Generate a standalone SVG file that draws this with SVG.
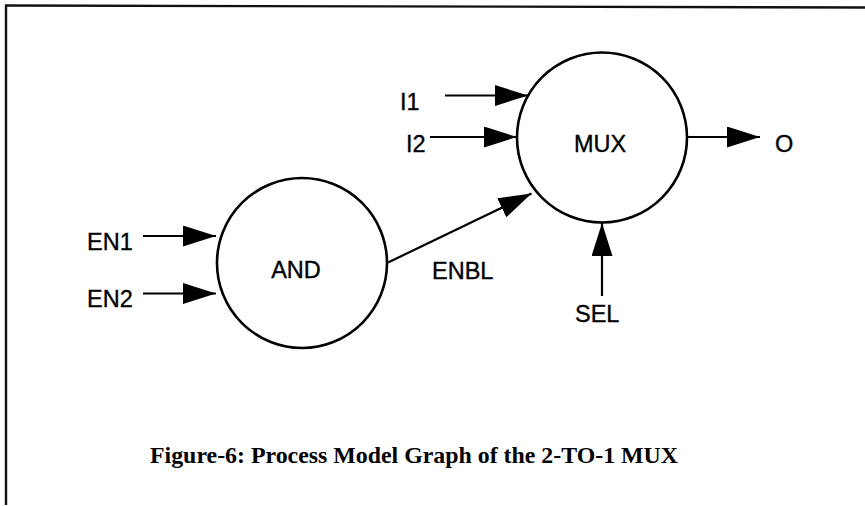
<svg xmlns="http://www.w3.org/2000/svg" width="865" height="506" viewBox="0 0 865 506">
  <style>
    .node { fill: #ffffff; stroke: #000000; stroke-width: 2.6; }
    .edge { fill: none; stroke: #000000; stroke-width: 2.2; marker-end: url(#arrow); }
    .label { font-family: "Liberation Sans", Arial, Helvetica, sans-serif; font-size: 23.5px; fill: #000000; stroke: #000000; stroke-width: 0.35; }
    .caption { font-family: "Liberation Serif", "Times New Roman", serif; font-size: 24px; font-weight: bold; fill: #000000; }
    .frame { stroke-width: 2.4; fill: none; }
  </style>
  <defs>
    <marker id="arrow" markerUnits="userSpaceOnUse" markerWidth="34" markerHeight="22" refX="33" refY="10.5" orient="auto">
      <path d="M0,0 L33,10.5 L0,21 Z" fill="#000000"/>
    </marker>
    <linearGradient id="bottomFade" x1="0" y1="0" x2="1" y2="0">
      <stop offset="0" stop-color="#1a1a1a"/>
      <stop offset="0.35" stop-color="#777777"/>
      <stop offset="1" stop-color="#d6d6d6"/>
    </linearGradient>
  </defs>

  <rect x="0" y="0" width="865" height="506" fill="#ffffff"/>

  <!-- page frame -->
  <g id="frame">
    <line class="frame" x1="5" y1="5.5" x2="865" y2="7.5" stroke="#111111"/>
    <line class="frame" x1="6" y1="5" x2="6" y2="505" stroke="#111111"/>
    <line class="frame" x1="5" y1="504.5" x2="865" y2="504.5" stroke="url(#bottomFade)"/>
  </g>

  <!-- connectors -->
  <g id="connectors">
    <line class="edge" x1="445" y1="95.5" x2="528" y2="95.5"/>
    <line class="edge" x1="430" y1="137" x2="517" y2="137"/>
    <line class="edge" x1="688" y1="137" x2="760" y2="137"/>
    <line class="edge" x1="388" y1="262.5" x2="531.5" y2="193.5"/>
    <line class="edge" x1="602" y1="296" x2="602" y2="223"/>
    <line class="edge" x1="143" y1="236" x2="216" y2="236"/>
    <line class="edge" x1="143" y1="293.5" x2="216" y2="293.5"/>
  </g>

  <!-- process nodes -->
  <g id="node-mux">
    <circle class="node" cx="602" cy="137.5" r="85"/>
    <text class="label" x="600" y="152" text-anchor="middle">MUX</text>
  </g>
  <g id="node-and">
    <circle class="node" cx="302" cy="263" r="85"/>
    <text class="label" x="296" y="278" text-anchor="middle">AND</text>
  </g>

  <!-- signal names -->
  <g id="signal-labels">
    <text class="label" x="400" y="110">I1</text>
    <text class="label" x="406" y="152">I2</text>
    <text class="label" x="775" y="152">O</text>
    <text class="label" x="432" y="279">ENBL</text>
    <text class="label" x="87" y="250">EN1</text>
    <text class="label" x="87" y="307">EN2</text>
    <text class="label" x="575" y="322">SEL</text>
  </g>

  <g id="caption">
    <text class="caption" x="150" y="463" textLength="528" lengthAdjust="spacingAndGlyphs">Figure-6: Process Model Graph of the 2-TO-1 MUX</text>
  </g>
</svg>
